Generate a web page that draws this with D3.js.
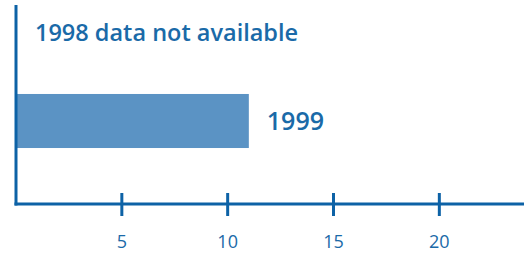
<!DOCTYPE html>
<html>
<head>
<meta charset="utf-8">
<script src="https://cdn.jsdelivr.net/npm/d3@7"></script>
<style>
  body { margin: 0; background: #fff; }
  text { font-family: 'Open Sans', sans-serif; fill: #1a6aa8; }
</style>
</head>
<body>
<div id="chart"></div>
<script>
'use strict'

const years = ['1998', '1999']
const values = [null, 11]
const tickValues = [5, 10, 15, 20]
const missingNote = '1998 data not available'

const width = 524,
    height = 254

const axisColor = '#0d62a6'
const barColor = '#5b93c4'

const svg = d3.select('#chart').append('svg')
  .attr('width', width)
  .attr('height', height)

const x = d3.scaleLinear()
  .domain([0, 24])
  .range([16, 524])

const y = d3.scaleBand()
  .domain(years)
  .range([-11, 165])
  .paddingInner(0.386)
  .paddingOuter(0.193)

const axisY = 204

// bars
const rows = years.map((yr, i) => ({ year: yr, value: values[i] }))

svg.append('g')
  .selectAll('rect')
  .data(rows.filter(d => d.value != null))
  .enter().append('rect')
  .attr('x', x(0))
  .attr('y', d => y(d.year))
  .attr('width', d => x(d.value) - x(0))
  .attr('height', y.bandwidth())
  .attr('fill', barColor)

// bar labels
svg.append('g')
  .selectAll('text')
  .data(rows)
  .enter().append('text')
  .attr('x', d => d.value == null ? x(0) + 19 : x(d.value) + 18)
  .attr('y', d => y(d.year) + y.bandwidth() / 2)
  .attr('dy', '0.35em')
  .style('font-size', d => d.value == null ? '23.5px' : '25px')
  .style('font-weight', 600)
  .text(d => d.value == null ? missingNote : d.year)

// vertical axis line
svg.append('line')
  .attr('x1', x(0)).attr('x2', x(0))
  .attr('y1', 5).attr('y2', axisY + 1.5)
  .attr('stroke', axisColor)
  .attr('stroke-width', 3)

// horizontal axis
svg.append('line')
  .attr('x1', x(0) - 1.5).attr('x2', width)
  .attr('y1', axisY).attr('y2', axisY)
  .attr('stroke', axisColor)
  .attr('stroke-width', 3)

const ticks = svg.append('g')
  .selectAll('g')
  .data(tickValues)
  .enter().append('g')
  .attr('transform', d => 'translate(' + x(d) + ',0)')

ticks.append('line')
  .attr('y1', axisY - 11).attr('y2', axisY + 12)
  .attr('stroke', axisColor)
  .attr('stroke-width', 3)

ticks.append('text')
  .attr('y', 248)
  .attr('text-anchor', 'middle')
  .style('font-size', '18px')
  .text(d => d)
</script>
</body>
</html>
